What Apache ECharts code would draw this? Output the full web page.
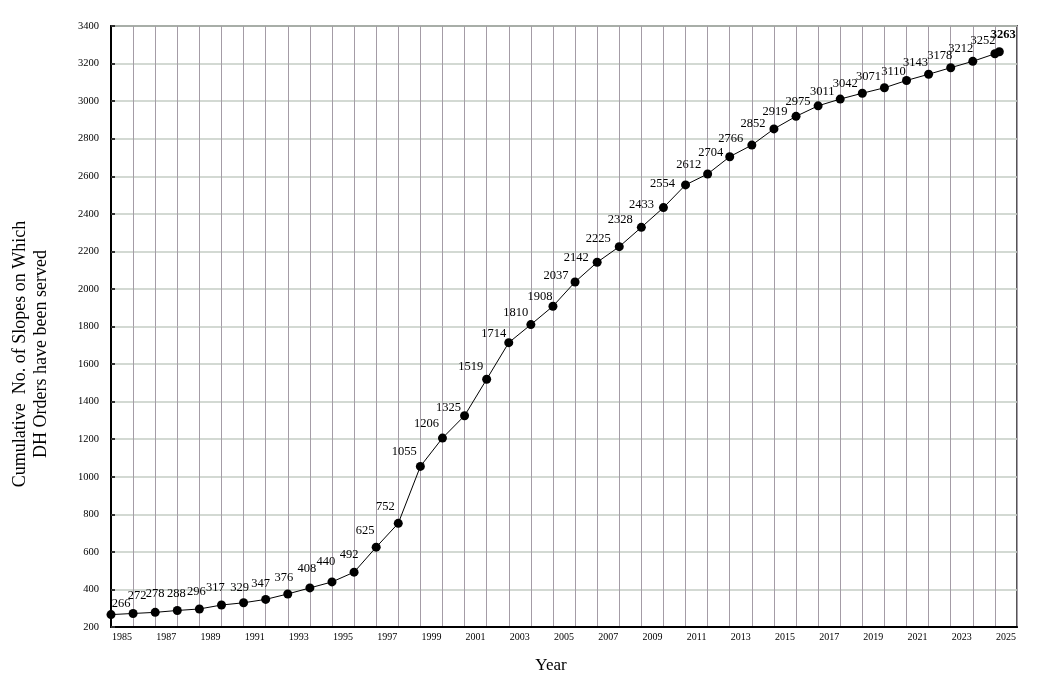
<!DOCTYPE html>
<html>
<head>
<meta charset="utf-8">
<script src="https://cdn.jsdelivr.net/npm/echarts@6/dist/echarts.min.js"></script>
<style>html,body{margin:0;padding:0;background:#fff}#c{width:1042px;height:700px}</style>
</head>
<body>
<div id="c"></div>
<script>
// ---- data ----
const yearLabels = ['1985','1986','1987','1988','1989','1990','1991','1992','1993','1994','1995','1996','1997','1998','1999','2000','2001','2002','2003','2004','2005','2006','2007','2008','2009','2010','2011','2012','2013','2014','2015','2016','2017','2018','2019','2020','2021','2022','2023','2024','2025'];
const pointYears = [1985,1986,1987,1988,1989,1990,1991,1992,1993,1994,1995,1996,1997,1998,1999,2000,2001,2002,2003,2004,2005,2006,2007,2008,2009,2010,2011,2012,2013,2014,2015,2016,2017,2018,2019,2020,2021,2022,2023,2024,2025,2025.2];
const totals = [266,272,278,288,296,317,329,347,376,408,440,492,625,752,1055,1206,1325,1519,1714,1810,1908,2037,2142,2225,2328,2433,2554,2612,2704,2766,2852,2919,2975,3011,3042,3071,3110,3143,3178,3212,3252,3263];
const yTicks = {min: 200, max: 3400, step: 200};

// ---- label placement (style only) ----
const labelOffsets = [[10,-11],[4,-18],[0,-19],[-1,-17],[-3,-17],[-6,-17],[-4,-15],[-5,-16],[-4,-16],[-3,-19],[-6,-20],[-5,-17],[-11,-16],[-13,-17],[-16,-15],[-16,-14],[-16,-8],[-16,-13],[-15,-9],[-15,-12],[-13,-9],[-19,-6],[-21,-5],[-21,-8],[-21,-8],[-22,-3],[-23,-1],[-19,-9],[-19,-4],[-21,-6],[-21,-5],[-21,-5],[-20,-4],[-18,-7],[-17,-10],[-16,-11],[-13,-9],[-13,-12],[-11,-12],[-12,-13],[-12,-13],[4,-17]];

const serif = '"Liberation Serif","DejaVu Serif",serif';
const seriesData = totals.map((v, i) => ({
  value: [pointYears[i], v],
  label: {fontWeight: i === totals.length - 1 ? 'bold' : 'normal'}
}));

const chart = echarts.init(document.getElementById('c'), null, {renderer: 'canvas'});
chart.setOption({
  animation: false,
  backgroundColor: '#ffffff',
  grid: {left: 111, right: 25, top: 26, bottom: 73, show: true, borderColor: '#555555', borderWidth: 2, backgroundColor: 'transparent'},
  xAxis: [
    {
      type: 'category', data: yearLabels, boundaryGap: true,
      axisLine: {show: true, lineStyle: {color: '#000', width: 2}},
      axisTick: {show: false},
      axisLabel: {interval: 1, color: '#000', fontFamily: serif, fontSize: 10, margin: 5},
      splitLine: {show: true, interval: 0, lineStyle: {color: '#a49ca6', width: 1}}
    },
    {type: 'value', min: 1985, max: 2026, show: false}
  ],
  yAxis: {
    type: 'value', min: yTicks.min, max: yTicks.max, interval: yTicks.step,
    axisLine: {show: true, lineStyle: {color: '#000', width: 2}},
    axisTick: {show: true, inside: true, length: 4, lineStyle: {color: '#333', width: 2}},
    axisLabel: {color: '#000', fontFamily: serif, fontSize: 10.5, margin: 12, formatter: v => String(v)},
    splitLine: {show: true, lineStyle: {color: '#c4ccc4', width: 1.5}}
  },
  graphic: [
    {type: 'text', x: 31, y: 354, rotation: Math.PI / 2,
     style: {text: 'Cumulative  No. of Slopes on Which\nDH Orders have been served', fill: '#000', font: '18px ' + serif, textAlign: 'center', textVerticalAlign: 'middle', lineHeight: 21}},
    {type: 'text', x: 551, y: 666,
     style: {text: 'Year', fill: '#000', font: '17px ' + serif, textAlign: 'center', textVerticalAlign: 'middle'}}
  ],
  series: [{
    type: 'line', xAxisIndex: 1, data: seriesData,
    symbol: 'circle', symbolSize: 9,
    itemStyle: {color: '#000'},
    lineStyle: {color: '#000', width: 1},
    label: {show: true, position: 'inside', color: '#000', fontFamily: serif, fontSize: 12.5,
            formatter: p => String(p.value[1])},
    labelLayout: p => {
      const o = labelOffsets[p.dataIndex] || [0, -15];
      return {dx: o[0], dy: o[1], hideOverlap: false};
    }
  }]
});
</script>
</body>
</html>
